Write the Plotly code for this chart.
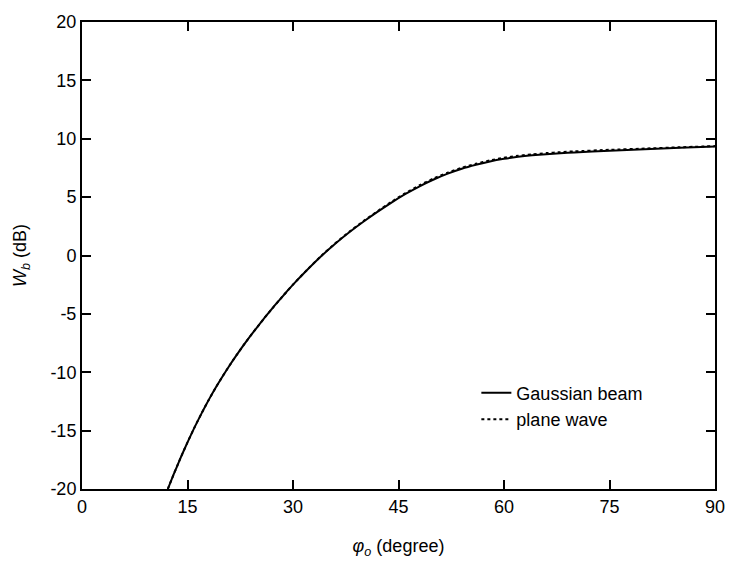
import plotly.graph_objects as go

phi = [12.2, 13, 14, 15, 16, 17, 18, 19, 20, 21, 22, 23, 24, 25, 26, 27, 28, 29, 30,
       32, 34, 36, 38, 40, 42, 44, 46, 48, 50, 52, 54, 56, 58, 60, 62, 64, 66, 68,
       70, 75, 80, 85, 90]
gauss = [-20.0, -18.8, -17.36, -16.0, -14.72, -13.52, -12.39, -11.33, -10.34, -9.40,
         -8.51, -7.66, -6.85, -6.07, -5.31, -4.57, -3.86, -3.17, -2.50,
         -1.24, -0.06, 1.01, 1.99, 2.89, 3.73, 4.53, 5.27, 5.93, 6.51, 7.01, 7.43,
         7.77, 8.06, 8.28, 8.45, 8.58, 8.68, 8.76, 8.83, 8.97, 9.09, 9.22, 9.34]
plane = [-20.0, -18.8, -17.36, -16.0, -14.72, -13.52, -12.39, -11.33, -10.34, -9.40,
         -8.51, -7.66, -6.85, -6.07, -5.31, -4.57, -3.86, -3.17, -2.49,
         -1.23, -0.04, 1.04, 2.03, 2.94, 3.79, 4.60, 5.35, 6.02, 6.60, 7.10, 7.52,
         7.86, 8.15, 8.37, 8.54, 8.67, 8.77, 8.85, 8.92, 9.05, 9.16, 9.27, 9.37]

xticks = [0, 15, 30, 45, 60, 75, 90]
yticks = [-20, -15, -10, -5, 0, 5, 10, 15, 20]

fig = go.Figure()
fig.add_trace(go.Scatter(x=phi, y=gauss, mode="lines", name="Gaussian beam",
                         line=dict(color="black", width=2, shape="spline", smoothing=0.6)))
fig.add_trace(go.Scatter(x=phi, y=plane, mode="lines", name="plane wave",
                         line=dict(color="black", width=2, dash="dot", shape="spline",
                                   smoothing=0.6)))

font = dict(family="Liberation Sans, Arial, sans-serif", size=18, color="black")
axis_common = dict(showgrid=False, zeroline=False, showline=True, linecolor="black",
                   linewidth=2, mirror="ticks", ticks="inside", ticklen=9,
                   tickwidth=1.5, tickcolor="black", tickfont=font)

fig.update_xaxes(range=[0, 90], tickvals=xticks, ticktext=[str(v) for v in xticks],
                 title=dict(text="<i>φ</i><sub><i>o</i></sub> (degree)", font=font, standoff=24),
                 **axis_common)
fig.update_yaxes(range=[-20, 20], tickvals=yticks, ticktext=[str(v) for v in yticks],
                 title=dict(text="<i>W</i><sub><i>b</i></sub> (dB)", font=font, standoff=19),
                 **axis_common)

fig.update_layout(
    width=737, height=565,
    margin=dict(l=82, r=16, t=12, b=76),
    plot_bgcolor="white", paper_bgcolor="white",
    font=font,
    showlegend=True,
    legend=dict(x=0.623, y=0.245, xanchor="left", yanchor="top",
                bgcolor="rgba(0,0,0,0)", font=font),
)

fig.write_html("out.html")
